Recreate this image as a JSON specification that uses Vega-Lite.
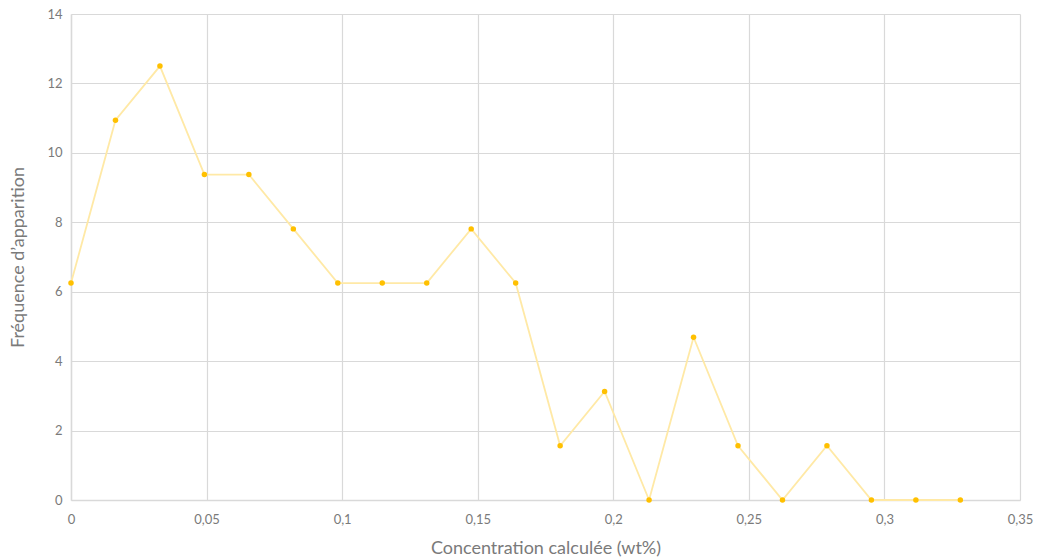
{
  "$schema": "https://vega.github.io/schema/vega-lite/v6.json",
  "width": 949,
  "height": 486,
  "autosize": "none",
  "padding": {"left": 71, "top": 14, "right": 20, "bottom": 59},
  "background": "white",
  "config": {
    "locale": {"number": {"decimal": ",", "thousands": " ", "grouping": [3], "currency": ["", " €"]}},
    "view": {"stroke": null},
    "font": "Lato"
  },
  "data": {
    "values": [
      {"c": 0, "f": 6.25},
      {"c": 0.0164, "f": 10.94},
      {"c": 0.0328, "f": 12.5},
      {"c": 0.0492, "f": 9.375},
      {"c": 0.0656, "f": 9.375},
      {"c": 0.082, "f": 7.81},
      {"c": 0.0984, "f": 6.25},
      {"c": 0.1148, "f": 6.25},
      {"c": 0.1312, "f": 6.25},
      {"c": 0.1476, "f": 7.81},
      {"c": 0.164, "f": 6.25},
      {"c": 0.1804, "f": 1.5625},
      {"c": 0.1968, "f": 3.125},
      {"c": 0.2132, "f": 0},
      {"c": 0.2296, "f": 4.6875},
      {"c": 0.246, "f": 1.5625},
      {"c": 0.2624, "f": 0},
      {"c": 0.2788, "f": 1.5625},
      {"c": 0.2952, "f": 0},
      {"c": 0.3116, "f": 0},
      {"c": 0.328, "f": 0}
    ]
  },
  "encoding": {
    "x": {
      "field": "c", "type": "quantitative",
      "scale": {"domain": [0, 0.35], "nice": false, "zero": false},
      "axis": {
        "title": "Concentration calculée (wt%)",
        "values": [0, 0.05, 0.1, 0.15, 0.2, 0.25, 0.3, 0.35],
        "format": "~g",
        "grid": true, "gridColor": "#d9d9d9", "gridWidth": 1.2,
        "domainColor": "#d9d9d9", "domainWidth": 1.5,
        "ticks": false, "labelPadding": 13, "labelFlush": false, "labelOverlap": false,
        "labelFontSize": 13, "labelColor": "#7a7a7a", "labelFont": "Lato",
        "titleFontSize": 18, "titleColor": "#7a7a7a", "titleFontWeight": "normal", "titleFont": "Lato",
        "titleY": 48, "titleBaseline": "middle"
      }
    },
    "y": {
      "field": "f", "type": "quantitative",
      "scale": {"domain": [0, 14], "nice": false},
      "axis": {
        "title": "Fréquence d’apparition",
        "values": [0, 2, 4, 6, 8, 10, 12, 14],
        "grid": true, "gridColor": "#d9d9d9", "gridWidth": 1.2,
        "domainColor": "#d9d9d9", "domainWidth": 1.5,
        "ticks": false, "labelPadding": 9, "labelFlush": false,
        "labelFontSize": 13, "labelColor": "#7a7a7a", "labelFont": "Lato",
        "titleFontSize": 18, "titleColor": "#7a7a7a", "titleFontWeight": "normal", "titleFont": "Lato",
        "titleX": -53, "titleBaseline": "middle"
      }
    }
  },
  "layer": [
    {"mark": {"type": "line", "color": "#ffe9a6", "strokeWidth": 1.8}},
    {"mark": {"type": "point", "filled": true, "color": "#ffc000", "size": 30, "opacity": 1}}
  ]
}
